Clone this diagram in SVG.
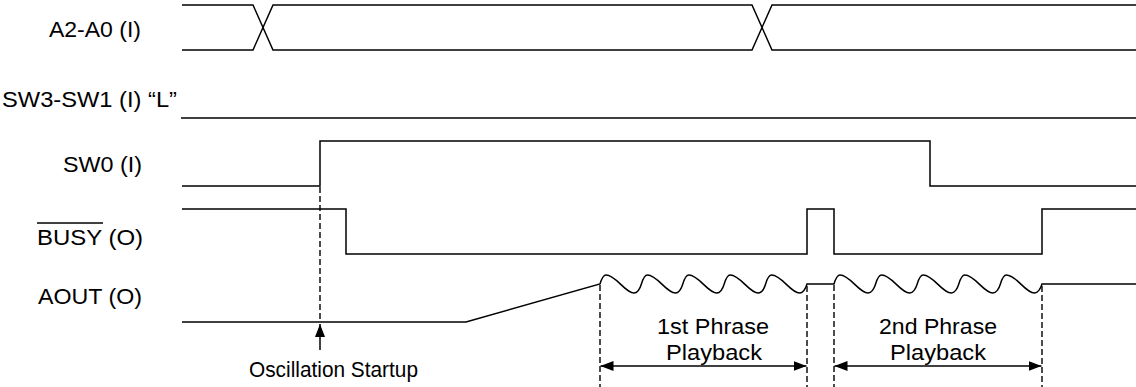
<svg xmlns="http://www.w3.org/2000/svg" width="1136" height="387" viewBox="0 0 1136 387">
<style>
text{font-family:"Liberation Sans",Arial,sans-serif;font-size:22px;fill:#000}
.sig{fill:none;stroke:#000;stroke-width:1.5;stroke-linejoin:miter}
.dash{fill:none;stroke:#000;stroke-width:1.4;stroke-dasharray:6 3}
.arr{fill:none;stroke:#000;stroke-width:1.5}
</style>
<defs>
<marker id="ah" viewBox="0 0 13 10" refX="13" refY="5" markerWidth="13" markerHeight="10" markerUnits="userSpaceOnUse" orient="auto-start-reverse">
<path d="M0,0 L13,5 L0,10 z" fill="#000"/>
</marker>
</defs>
<rect width="1136" height="387" fill="#fff"/>
<g id="sig-a2a0">
<text x="49" y="37" textLength="92" lengthAdjust="spacingAndGlyphs">A2-A0 (I)</text>
<path class="sig" d="M182,5 L253,5 L273,50 L752,50 L772,5 L1136,5"/>
<path class="sig" d="M182,50 L253,50 L273,5 L752,5 L772,50 L1136,50"/>
</g>
<g id="sig-sw3sw1">
<text x="2" y="107" textLength="175" lengthAdjust="spacingAndGlyphs">SW3-SW1 (I) “L”</text>
<path class="sig" d="M181,118 L1136,118"/>
</g>
<g id="sig-sw0">
<text x="63" y="172" textLength="79" lengthAdjust="spacingAndGlyphs">SW0 (I)</text>
<path class="sig" d="M182,186 L320,186 L320,141 L930,141 L930,186 L1136,186"/>
</g>
<g id="sig-busy">
<text x="37" y="245" textLength="106" lengthAdjust="spacingAndGlyphs">BUSY (O)</text>
<line x1="37" y1="223" x2="103" y2="223" stroke="#000" stroke-width="1.3"/>
<path class="sig" d="M182,209 L346,209 L346,254 L807,254 L807,209 L834,209 L834,254 L1042,254 L1042,209 L1136,209"/>
</g>
<g id="sig-aout">
<text x="38" y="304" textLength="104" lengthAdjust="spacingAndGlyphs">AOUT (O)</text>
<path class="sig" d="M182,322 L466,322 L600,284
C601.2,280 603,275 606,275 C616,275 625,293 634,293 C637.5,293 640.2,288 641.4,284
C642.6,280 644.4,275 647.4,275 C657.4,275 666.4,293 675.4,293 C678.9,293 681.6,288 682.8,284
C684,280 685.8,275 688.8,275 C698.8,275 707.8,293 716.8,293 C720.3,293 723,288 724.2,284
C725.4,280 727.2,275 730.2,275 C740.2,275 749.2,293 758.2,293 C761.7,293 764.4,288 765.6,284
C766.8,280 768.6,275 771.6,275 C781.6,275 790.6,293 799.6,293 C803.1,293 805.8,288 807,284
L834,284
C835.2,280 837,275 840,275 C850,275 859,293 868,293 C871.5,293 874.4,288 875.6,284
C876.8,280 878.6,275 881.6,275 C891.6,275 900.6,293 909.6,293 C913.1,293 916,288 917.2,284
C918.4,280 920.2,275 923.2,275 C933.2,275 942.2,293 951.2,293 C954.7,293 957.6,288 958.8,284
C960,280 961.8,275 964.8,275 C974.8,275 983.8,293 992.8,293 C996.3,293 999.2,288 1000.4,284
C1001.6,280 1003.4,275 1006.4,275 C1016.4,275 1025.4,293 1034.4,293 C1037.9,293 1040.8,288 1042,284
L1136,284"/>
</g>
<g id="label-osc">
<text x="249" y="377" textLength="169" lengthAdjust="spacingAndGlyphs">Oscillation Startup</text>
</g>
<g id="label-phrase1">
<text x="657" y="334" textLength="112" lengthAdjust="spacingAndGlyphs">1st Phrase</text>
<text x="666" y="360" textLength="96" lengthAdjust="spacingAndGlyphs">Playback</text>
</g>
<g id="label-phrase2">
<text x="879" y="334" textLength="118" lengthAdjust="spacingAndGlyphs">2nd Phrase</text>
<text x="890" y="360" textLength="96" lengthAdjust="spacingAndGlyphs">Playback</text>
</g>
<g id="connectors">
<line class="dash" x1="320" y1="187" x2="320" y2="322"/>
<line class="arr" x1="320" y1="350" x2="320" y2="324" marker-end="url(#ah)"/>
<line class="dash" x1="600" y1="285" x2="600" y2="387"/>
<line class="dash" x1="807" y1="286" x2="807" y2="387"/>
<line class="dash" x1="834" y1="285" x2="834" y2="387"/>
<line class="dash" x1="1042" y1="286" x2="1042" y2="387"/>
<line class="arr" x1="600.5" y1="366" x2="806.5" y2="366" marker-start="url(#ah)" marker-end="url(#ah)"/>
<line class="arr" x1="834.5" y1="366" x2="1041.5" y2="366" marker-start="url(#ah)" marker-end="url(#ah)"/>
</g>
</svg>
